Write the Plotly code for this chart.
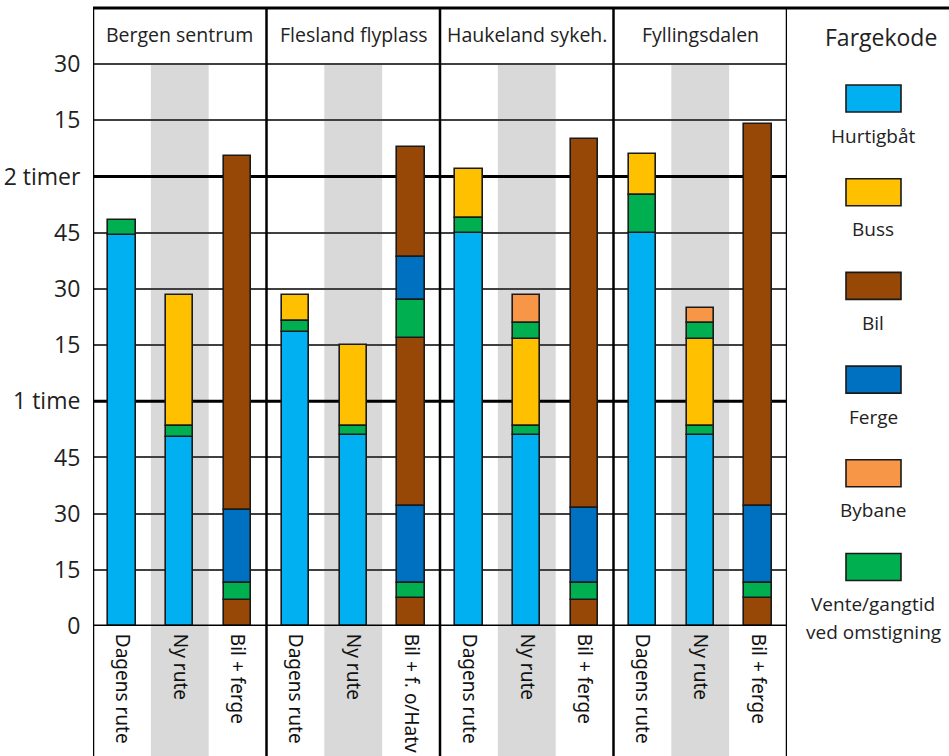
import plotly.graph_objects as go

# ---------------- data ----------------
panels = ["Bergen sentrum", "Flesland flyplass", "Haukeland sykeh.", "Fyllingsdalen"]
route_labels = [
    ["Dagens rute", "Ny rute", "Bil + ferge"],
    ["Dagens rute", "Ny rute", "Bil + f. o/Hatv"],
    ["Dagens rute", "Ny rute", "Bil + ferge"],
    ["Dagens rute", "Ny rute", "Bil + ferge"],
]
modes = ["Hurtigbåt", "Buss", "Bil", "Ferge", "Bybane", "Vente"]
mode_labels = ["Hurtigbåt", "Buss", "Bil", "Ferge", "Bybane", "Vente/gangtid\nved omstigning"]
mode_colors = ["#00B0F0", "#FFC000", "#974706", "#0070C0", "#F79646", "#00B050"]

# segments of each bar, bottom to top (minutes)
bar_modes = [
    ["Hurtigbåt", "Vente"],
    ["Hurtigbåt", "Vente", "Buss"],
    ["Bil", "Vente", "Ferge", "Bil"],
    ["Hurtigbåt", "Vente", "Buss"],
    ["Hurtigbåt", "Vente", "Buss"],
    ["Bil", "Vente", "Ferge", "Bil", "Vente", "Ferge", "Bil"],
    ["Hurtigbåt", "Vente", "Buss"],
    ["Hurtigbåt", "Vente", "Buss", "Vente", "Bybane"],
    ["Bil", "Vente", "Ferge", "Bil"],
    ["Hurtigbåt", "Vente", "Buss"],
    ["Hurtigbåt", "Vente", "Buss", "Vente", "Bybane"],
    ["Bil", "Vente", "Ferge", "Bil"],
]
bar_minutes = [
    [104.5, 4],
    [50.5, 3, 35],
    [7, 4.5, 19.5, 94.5],
    [78.5, 3, 7],
    [51, 2.5, 21.5],
    [7.5, 4, 20.5, 45, 10, 11.5, 29.5],
    [105, 4, 13],
    [51, 2.5, 23, 4.5, 7.5],
    [7, 4.5, 20, 98.5],
    [105, 10, 11],
    [51, 2.5, 23, 4.5, 4],
    [7.5, 4, 20.5, 102],
]
tick_minutes = [0, 15, 30, 45, 60, 75, 90, 105, 120, 135, 150]
tick_text = ["0", "15", "30", "45", "1 time", "15", "30", "45", "2 timer", "15", "30"]
hour_marks = [60, 120]

# ---------------- layout helpers ----------------
W, H = 949, 756
ML, MR, MT, MB = 93, 162, 8, 130
PW, PH = W - ML - MR, H - MT - MB
YMAX = 165
HEADER = 150
TXT = "#222222"


def px_x(px):
    return (px - ML) / PW


def px_y(py):
    return (H - MB - py) / PH


n_bars = len(bar_modes)
x_pos = list(range(n_bars))
x_labels = [lab for grp in route_labels for lab in grp]

fig = go.Figure()

for m, col in zip(modes, mode_colors):
    xs, ys, bs = [], [], []
    for i in range(n_bars):
        base = 0
        for mm, v in zip(bar_modes[i], bar_minutes[i]):
            if mm == m:
                xs.append(x_pos[i])
                ys.append(v)
                bs.append(base)
            base += v
    fig.add_trace(go.Bar(
        x=xs, y=ys, base=bs, width=0.47, name=m,
        marker=dict(color=col, line=dict(color="#1a1a1a", width=1.6)),
        showlegend=False,
    ))

shapes = []
# gray bands for the middle category of each panel
for p in range(len(panels)):
    c = 3 * p + 1
    shapes.append(dict(type="rect", xref="x", yref="paper",
                       x0=c - 0.5, x1=c + 0.5, y0=px_y(H + 5), y1=HEADER / YMAX,
                       fillcolor="#D9D9D9", line=dict(width=0), layer="below"))
# hour lines
for hm in hour_marks:
    shapes.append(dict(type="line", xref="x", yref="y", x0=-0.5, x1=n_bars - 0.5,
                       y0=hm, y1=hm, line=dict(color="black", width=3), layer="between"))
# zero line
shapes.append(dict(type="line", xref="x", yref="y", x0=-0.5, x1=n_bars - 0.5,
                   y0=0, y1=0, line=dict(color="black", width=3), layer="above"))
# vertical dividers
for p in range(len(panels) + 1):
    xv = 3 * p - 0.5
    shapes.append(dict(type="line", xref="x", yref="paper", x0=xv, x1=xv,
                       y0=px_y(H + 5), y1=1, line=dict(color="black", width=2.5),
                       layer="above"))
# top border
shapes.append(dict(type="line", xref="paper", yref="paper", x0=0, x1=px_x(W + 5),
                   y0=1, y1=1, line=dict(color="black", width=3), layer="above"))

# legend boxes
box_cx, box_w, box_h = 873.5, 55, 27
box_top0, step = 98.5, 93.7
annotations = []
for k, (lab, col) in enumerate(zip(mode_labels, mode_colors)):
    cy = box_top0 + k * step
    shapes.append(dict(type="rect", xref="paper", yref="paper",
                       x0=px_x(box_cx - box_w / 2), x1=px_x(box_cx + box_w / 2),
                       y0=px_y(cy + box_h / 2), y1=px_y(cy - box_h / 2),
                       fillcolor=col, line=dict(color="#1a1a1a", width=1.6), layer="above"))
    for j, line_txt in enumerate(lab.split("\n")):
        annotations.append(dict(xref="paper", yref="paper", x=px_x(box_cx),
                                y=px_y(cy + 37 + j * 28), text=line_txt, showarrow=False,
                                xanchor="center", yanchor="middle",
                                font=dict(family="Open Sans", size=19, color=TXT)))

annotations.append(dict(xref="paper", yref="paper", x=px_x(881), y=px_y(37),
                        text="Fargekode", showarrow=False, xanchor="center", yanchor="middle",
                        font=dict(family="Open Sans", size=23, color=TXT)))
for p, name in enumerate(panels):
    annotations.append(dict(xref="x", yref="y", x=3 * p + 1, y=(HEADER + YMAX) / 2 + 0.3,
                            text=name, showarrow=False, xanchor="center", yanchor="middle",
                            font=dict(family="Open Sans", size=19.5, color=TXT)))

fig.update_layout(
    width=W, height=H,
    margin=dict(l=ML, r=MR, t=MT, b=MB, autoexpand=False),
    paper_bgcolor="white", plot_bgcolor="white",
    barmode="overlay", bargap=0,
    shapes=shapes, annotations=annotations,
    xaxis=dict(range=[-0.5, n_bars - 0.5], tickmode="array", tickvals=x_pos,
               ticktext=x_labels, tickangle=90, showgrid=False, zeroline=False,
               showline=False, ticks="outside", ticklen=3, tickcolor="rgba(0,0,0,0)",
               tickfont=dict(family="Noto Sans", size=19, color="#111111"),
               automargin=False, fixedrange=True),
    yaxis=dict(range=[0, YMAX], tickmode="array", tickvals=tick_minutes,
               ticktext=tick_text, showgrid=True, gridcolor="#404040", gridwidth=2,
               zeroline=False, showline=False, ticks="outside", ticklen=7,
               tickcolor="rgba(0,0,0,0)",
               tickfont=dict(family="Open Sans", size=23, color=TXT),
               automargin=False, fixedrange=True),
)

fig.write_html("out.html")
